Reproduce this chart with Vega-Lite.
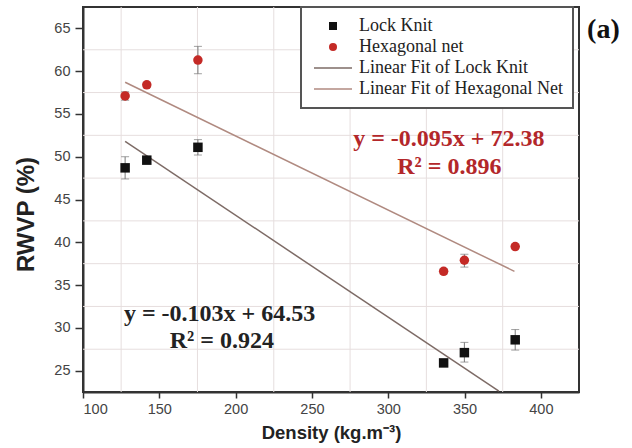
{
  "$schema": "https://vega.github.io/schema/vega-lite/v6.json",
  "width": 496,
  "height": 385,
  "autosize": {"type": "none"},
  "padding": {"left": 83, "top": 7, "right": 53, "bottom": 56},
  "background": "white",
  "config": {
    "view": {"stroke": "#333", "strokeWidth": 2},
    "axis": {
      "labelFont": "Liberation Sans",
      "labelColor": "#444",
      "labelFontSize": 14.5,
      "titleFont": "Liberation Sans",
      "titleFontWeight": "bold",
      "titleColor": "#222",
      "domainColor": "#333",
      "domainWidth": 2,
      "tickColor": "#333",
      "tickWidth": 1.5,
      "grid": false
    }
  },
  "datasets": {
    "pts": [
      {"series": "Lock Knit", "density": 127.6, "rwvp": 48.7, "lo": 47.4, "hi": 50.0},
      {"series": "Lock Knit", "density": 141.8, "rwvp": 49.6, "lo": 49.3, "hi": 49.9},
      {"series": "Lock Knit", "density": 175.3, "rwvp": 51.1, "lo": 50.2, "hi": 52.0},
      {"series": "Lock Knit", "density": 336.3, "rwvp": 25.9, "lo": 25.9, "hi": 25.9},
      {"series": "Lock Knit", "density": 349.9, "rwvp": 27.1, "lo": 26.0, "hi": 28.3},
      {"series": "Lock Knit", "density": 383.2, "rwvp": 28.6, "lo": 27.4, "hi": 29.8},
      {"series": "Hexagonal net", "density": 127.6, "rwvp": 57.1, "lo": 56.6, "hi": 57.6},
      {"series": "Hexagonal net", "density": 141.8, "rwvp": 58.4, "lo": 58.1, "hi": 58.7},
      {"series": "Hexagonal net", "density": 175.3, "rwvp": 61.3, "lo": 59.7, "hi": 62.9},
      {"series": "Hexagonal net", "density": 336.3, "rwvp": 36.6, "lo": 36.3, "hi": 36.9},
      {"series": "Hexagonal net", "density": 349.9, "rwvp": 37.9, "lo": 37.1, "hi": 38.6},
      {"series": "Hexagonal net", "density": 383.2, "rwvp": 39.5, "lo": 39.5, "hi": 39.5}
    ],
    "fits": [
      {"series": "Linear Fit of Lock Knit", "density": 127.6, "rwvp": 51.8},
      {"series": "Linear Fit of Lock Knit", "density": 372.5, "rwvp": 22.6},
      {"series": "Linear Fit of Hexagonal Net", "density": 127.6, "rwvp": 58.7},
      {"series": "Linear Fit of Hexagonal Net", "density": 382.7, "rwvp": 36.6}
    ],
    "vgrid": [
      {"density": 125}, {"density": 175}, {"density": 225}, {"density": 275}, {"density": 325}, {"density": 375}
    ],
    "hgrid": [
      {"rwvp": 27.5}, {"rwvp": 32.5}, {"rwvp": 37.5}, {"rwvp": 42.5}, {"rwvp": 47.5}, {"rwvp": 52.5}, {"rwvp": 57.5}, {"rwvp": 62.5}
    ],
    "notes": [
      {"grp": "hex", "label": "y = -0.095x + 72.38", "density": 339.7, "rwvp": 52.1},
      {"grp": "hex", "label": "R² = 0.896", "density": 340, "rwvp": 48.8},
      {"grp": "lock", "label": "y = -0.103x + 64.53", "density": 189.5, "rwvp": 31.6},
      {"grp": "lock", "label": "R² = 0.924", "density": 191, "rwvp": 28.5},
      {"grp": "tag", "label": "(a)", "density": 441, "rwvp": 64.8}
    ]
  },
  "layer": [
    {
      "data": {"name": "vgrid"},
      "mark": {"type": "rule", "color": "#e6dede", "strokeWidth": 1},
      "encoding": {
        "x": {
          "field": "density", "type": "quantitative",
          "scale": {"domain": [100, 425], "nice": false, "zero": false},
          "axis": {
            "title": "Density (kg.m⁻³)",
            "titleFontSize": 18.5,
            "titlePadding": 8,
            "values": [100, 125, 150, 175, 200, 225, 250, 275, 300, 325, 350, 375, 400, 425],
            "labelExpr": "datum.value % 50 === 0 ? datum.label : ''",
            "labelPadding": 4,
            "tickSize": {"condition": {"test": "datum.value % 50 === 0", "value": 6}, "value": 4}
          }
        }
      }
    },
    {
      "data": {"name": "hgrid"},
      "mark": {"type": "rule", "color": "#e6dede", "strokeWidth": 1},
      "encoding": {
        "y": {
          "field": "rwvp", "type": "quantitative",
          "scale": {"domain": [22.5, 67.5], "nice": false, "zero": false},
          "axis": {
            "title": "RWVP (%)",
            "titleFontSize": 24,
            "titlePadding": 15,
            "titleY": 207,
            "values": [25, 27.5, 30, 32.5, 35, 37.5, 40, 42.5, 45, 47.5, 50, 52.5, 55, 57.5, 60, 62.5, 65],
            "labelExpr": "datum.value % 5 === 0 ? datum.label : ''",
            "labelPadding": 5,
            "tickSize": {"condition": {"test": "datum.value % 5 === 0", "value": 8}, "value": 4}
          }
        }
      }
    },
    {
      "data": {"name": "fits"},
      "mark": {"type": "line", "strokeWidth": 1.5},
      "encoding": {
        "x": {"field": "density", "type": "quantitative"},
        "y": {"field": "rwvp", "type": "quantitative"},
        "color": {
          "field": "series", "type": "nominal",
          "scale": {
            "domain": ["Lock Knit", "Hexagonal net", "Linear Fit of Lock Knit", "Linear Fit of Hexagonal Net"],
            "range": ["#111111", "#c42a26", "#7d6b66", "#b08a80"]
          },
          "legend": {
            "title": null,
            "orient": "none",
            "legendX": 218,
            "legendY": 0,
            "padding": 10,
            "fillColor": "white",
            "strokeColor": "#555",
            "labelFont": "Liberation Serif",
            "labelFontSize": 18,
            "labelColor": "#222",
            "labelLimit": 400,
            "labelOffset": 17,
            "symbolOffset": 13,
            "symbolSize": 64,
            "rowPadding": 3,
            "encode": {
              "legend": {"update": {"strokeWidth": {"value": 2}}},
              "symbols": {"update": {
                "stroke": {"scale": "color", "field": "value"},
                "fill": {"scale": "color", "field": "value"},
                "strokeWidth": {"signal": "datum.value === 'Lock Knit' || datum.value === 'Hexagonal net' ? 0 : 1.5"}
              }}
            }
          }
        },
        "detail": {"field": "series"}
      }
    },
    {
      "data": {"name": "pts"},
      "mark": {"type": "rule", "color": "#777", "strokeWidth": 1},
      "encoding": {
        "x": {"field": "density", "type": "quantitative"},
        "y": {"field": "lo", "type": "quantitative"},
        "y2": {"field": "hi"}
      }
    },
    {
      "data": {"name": "pts"},
      "mark": {"type": "tick", "orient": "horizontal", "color": "#777", "size": 8, "thickness": 1},
      "encoding": {
        "x": {"field": "density", "type": "quantitative"},
        "y": {"field": "lo", "type": "quantitative"}
      }
    },
    {
      "data": {"name": "pts"},
      "mark": {"type": "tick", "orient": "horizontal", "color": "#777", "size": 8, "thickness": 1},
      "encoding": {
        "x": {"field": "density", "type": "quantitative"},
        "y": {"field": "hi", "type": "quantitative"}
      }
    },
    {
      "data": {"name": "pts"},
      "mark": {"type": "point", "filled": true, "opacity": 1, "size": 90},
      "encoding": {
        "x": {"field": "density", "type": "quantitative"},
        "y": {"field": "rwvp", "type": "quantitative"},
        "color": {"field": "series", "type": "nominal"},
        "shape": {
          "field": "series", "type": "nominal",
          "scale": {
            "domain": ["Lock Knit", "Hexagonal net", "Linear Fit of Lock Knit", "Linear Fit of Hexagonal Net"],
            "range": ["square", "circle", "M-4.75,0H4.75", "M-4.75,0H4.75"]
          },
          "legend": {"title": null}
        }
      }
    },
    {
      "data": {"name": "notes"},
      "transform": [{"filter": "datum.grp === 'hex'"}],
      "mark": {"type": "text", "font": "Liberation Serif", "fontWeight": "bold", "fontSize": 24, "color": "#b3272a", "align": "center", "baseline": "middle"},
      "encoding": {
        "x": {"field": "density", "type": "quantitative"},
        "y": {"field": "rwvp", "type": "quantitative"},
        "text": {"field": "label"}
      }
    },
    {
      "data": {"name": "notes"},
      "transform": [{"filter": "datum.grp === 'lock'"}],
      "mark": {"type": "text", "font": "Liberation Serif", "fontWeight": "bold", "fontSize": 24, "color": "#222", "align": "center", "baseline": "middle"},
      "encoding": {
        "x": {"field": "density", "type": "quantitative"},
        "y": {"field": "rwvp", "type": "quantitative"},
        "text": {"field": "label"}
      }
    },
    {
      "data": {"name": "notes"},
      "transform": [{"filter": "datum.grp === 'tag'"}],
      "mark": {"type": "text", "font": "Liberation Serif", "fontWeight": "bold", "fontSize": 28, "color": "#111", "align": "center", "baseline": "middle", "clip": false},
      "encoding": {
        "x": {"field": "density", "type": "quantitative"},
        "y": {"field": "rwvp", "type": "quantitative"},
        "text": {"field": "label"}
      }
    }
  ]
}
